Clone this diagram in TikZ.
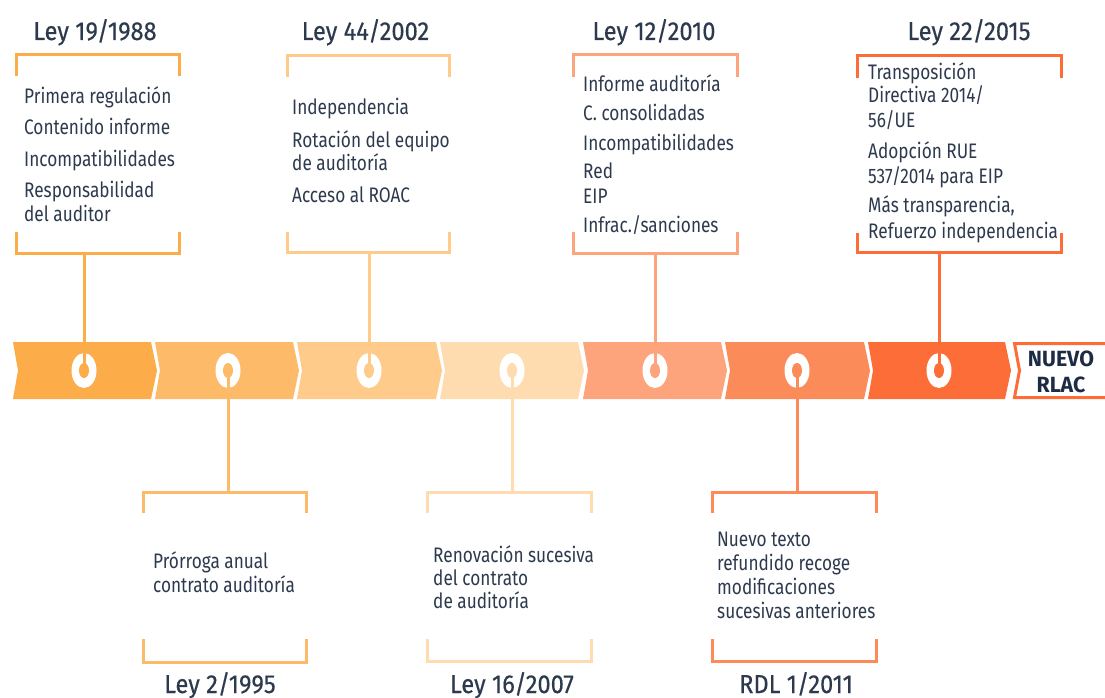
\documentclass[tikz,border=0pt]{standalone}
\usepackage{fontspec}
\setmainfont[FakeStretch=0.82]{Fira Sans}
\newfontfamily\titlefont[FakeStretch=0.91,FakeBold=0.4]{Fira Sans}
\newfontfamily\nvfont[FakeStretch=0.97]{Fira Sans}
\usetikzlibrary{shapes.geometric}
\definecolor{c1}{HTML}{FCAC48}
\definecolor{c2}{HTML}{FDBB69}
\definecolor{c3}{HTML}{FECB8B}
\definecolor{c4}{HTML}{FEDCAF}
\definecolor{c5}{HTML}{FDA47C}
\definecolor{c6}{HTML}{FC8B5A}
\definecolor{c7}{HTML}{FD6D37}
\definecolor{txtc}{HTML}{2D3A4E}
\definecolor{navy}{HTML}{1E2B45}
\tikzset{
  txt/.style={anchor=base west, inner sep=0pt, text=txtc, font=\fontsize{21}{24}\selectfont},
  ttl/.style={anchor=base, inner sep=0pt, text=txtc, font=\titlefont\fontsize{26}{28}\selectfont},
  nuevo/.style={anchor=base, inner sep=0pt, text=navy, font=\nvfont\bfseries\fontsize{22}{24}\selectfont},
  brk/.style={line width=3pt, miter limit=10},
  conn/.style={line width=3pt},
  ring/.style={ellipse, fill=white, minimum width=25pt, minimum height=35pt, inner sep=0pt},
  hole/.style={ellipse, minimum width=10pt, minimum height=15pt, inner sep=0pt},
}
\newcommand\mytl[4]{\node[txt] (#1) at (#2,#3) {#4};}
\begin{document}
\begin{tikzpicture}[x=1pt,y=-1pt]
\useasboundingbox (0,0) rectangle (1105,698);
\fill[white] (0,0) rectangle (1105,698);
% band segments
\foreach \L/\R/\col in {13/151/c1,155/293/c2,297/436/c3,440/578/c4,583/721/c5,725/864/c6,868/1005/c7}{
  \fill[\col] (\L,342) -- (\R,342) -- (\R+6,370.5) -- (\R,399) -- (\L,399) -- (\L+5,370.5) -- cycle;
}
% NUEVO RLAC
\draw[c7, line width=3pt] (1110,343.5) -- (1014.5,343.5) -- (1019.5,370.5) -- (1014.5,397.5) -- (1110,397.5);
\node[nuevo] (nv1) at (1061,366) {NUEVO};
\node[nuevo] (nv2) at (1061,392) {RLAC};
% rings
\node[ring] (r1) at (84,370.5) {};
\node[ring] (r2) at (228,370.5) {};
\node[ring] (r3) at (369,370.5) {};
\node[ring] (r4) at (512,370.5) {};
\node[ring] (r5) at (655,370.5) {};
\node[ring] (r6) at (797,370.5) {};
\node[ring] (r7) at (939,370.5) {};
% brackets
\draw[brk,c1] (16,76) |- (179,55) -- (179,76);
\draw[brk,c1] (16,232) |- (179,253) -- (179,232);
\draw[brk,c3] (287,77) |- (449,56) -- (449,77);
\draw[brk,c3] (287,232) |- (449,252) -- (449,232);
\draw[brk,c5] (573,77) |- (737,55) -- (737,77);
\draw[brk,c5] (573,232) |- (737,253) -- (737,232);
\draw[brk,c7] (857,78) |- (1061,56) -- (1061,78);
\draw[brk,c7] (857,233) |- (1061,252) -- (1061,233);
\draw[brk,c2] (143,513) |- (306,492) -- (306,513);
\draw[brk,c2] (143,639) |- (306,662) -- (306,639);
\draw[brk,c4] (427,513) |- (591,492) -- (591,513);
\draw[brk,c4] (427,639) |- (591,661) -- (591,639);
\draw[brk,c6] (712,513) |- (876,492) -- (876,513);
\draw[brk,c6] (712,639) |- (876,661) -- (876,639);
% connector anchors
\coordinate (k1) at (84,253);
\coordinate (k2) at (228,492);
\coordinate (k3) at (369,252);
\coordinate (k4) at (512,492);
\coordinate (k5) at (655,253);
\coordinate (k6) at (797,492);
\coordinate (k7) at (939,252);
\draw[conn,c1] (k1) -- (r1.center);
\draw[conn,c2] (r2.center) -- (k2);
\draw[conn,c3] (k3) -- (r3.center);
\draw[conn,c4] (r4.center) -- (k4);
\draw[conn,c5] (k5) -- (r5.center);
\draw[conn,c6] (r6.center) -- (k6);
\draw[conn,c7] (k7) -- (r7.center);
% holes
\node[hole,fill=c1] (h1) at (r1.center) {};
\node[hole,fill=c2] (h2) at (r2.center) {};
\node[hole,fill=c3] (h3) at (r3.center) {};
\node[hole,fill=c4] (h4) at (r4.center) {};
\node[hole,fill=c5] (h5) at (r5.center) {};
\node[hole,fill=c6] (h6) at (r6.center) {};
\node[hole,fill=c7] (h7) at (r7.center) {};
% titles
\node[ttl] (t1) at (95,40) {Ley 19/1988};
\node[ttl] (t2) at (365.5,40) {Ley 44/2002};
\node[ttl] (t3) at (654,40) {Ley 12/2010};
\node[ttl] (t4) at (969,40) {Ley 22/2015};
\node[ttl] (t5) at (220,693) {Ley 2/1995};
\node[ttl] (t6) at (512,693) {Ley 16/2007};
\node[ttl] (t7) at (796,693) {RDL 1/2011};
% texts
\mytl{a1}{24}{104}{Primera regulación}
\mytl{a2}{24}{135}{Contenido informe}
\mytl{a3}{24}{166}{Incompatibilidades}
\mytl{a4}{24}{197}{Responsabilidad}
\mytl{a5}{24}{221}{del auditor}
\mytl{b1}{292}{115}{Independencia}
\mytl{b2}{292}{147}{Rotación del equipo}
\mytl{b3}{292}{170}{de auditoría}
\mytl{b4}{292}{202}{Acceso al ROAC}
\mytl{c1}{583}{92}{Informe auditoría}
\mytl{c2}{583}{121}{C. consolidadas}
\mytl{c3}{583}{150}{Incompatibilidades}
\mytl{c4}{583}{178}{Red}
\mytl{c5}{583}{203}{EIP}
\mytl{c6}{583}{232}{Infrac./sanciones}
\mytl{d1}{868}{80}{Transposición}
\mytl{d2}{868}{103}{Directiva 2014/}
\mytl{d3}{868}{128}{56/UE}
\mytl{d4}{868}{158}{Adopción RUE}
\mytl{d5}{868}{183}{537/2014 para EIP}
\mytl{d6}{868}{212}{Más transparencia,}
\mytl{d7}{868}{238}{Refuerzo independencia}
\mytl{e1}{153}{568}{Prórroga anual}
\mytl{e2}{153}{592}{contrato auditoría}
\mytl{f1}{433}{562}{Renovación sucesiva}
\mytl{f2}{433}{585}{del contrato}
\mytl{f3}{433}{608}{de auditoría}
\mytl{g1}{717}{546}{Nuevo texto}
\mytl{g2}{717}{570}{refundido recoge}
\mytl{g3}{717}{594}{modificaciones}
\mytl{g4}{717}{618}{sucesivas anteriores}
\end{tikzpicture}
\end{document}
